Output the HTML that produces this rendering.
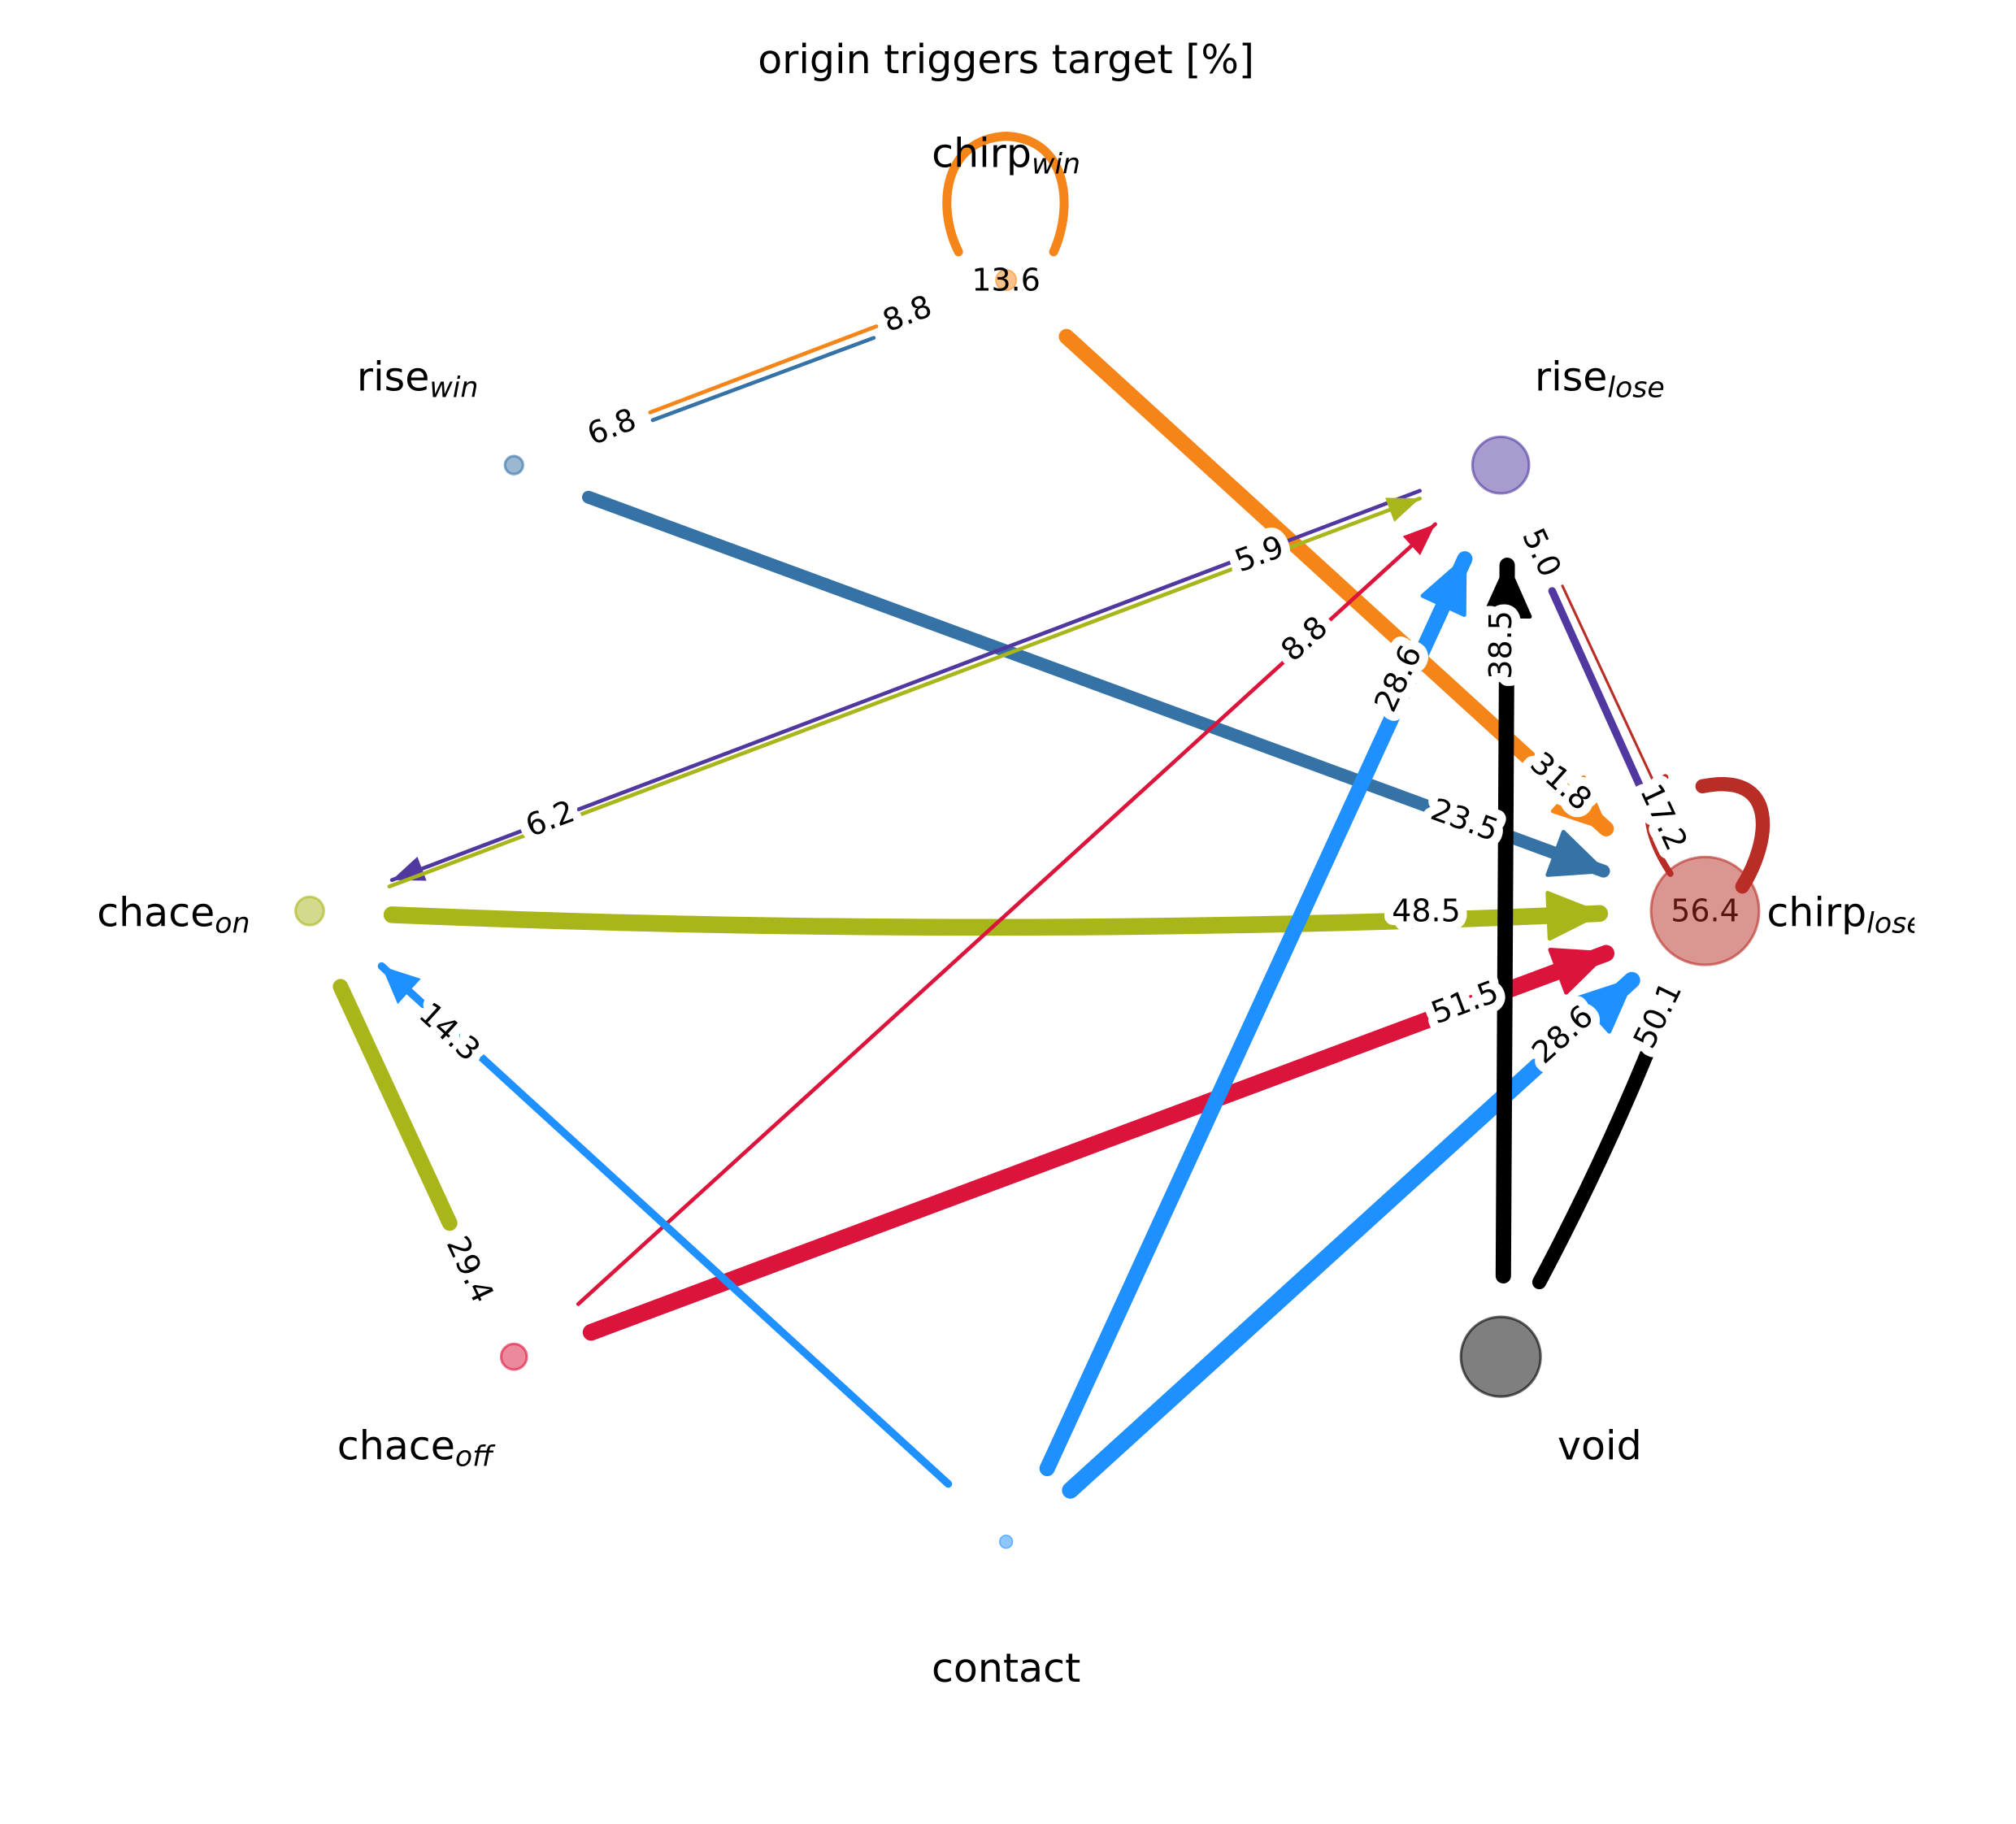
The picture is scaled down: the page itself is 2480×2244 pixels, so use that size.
<!DOCTYPE html>
<html><head><meta charset="utf-8"><style>html,body{margin:0;padding:0;background:#fff}svg{display:block}</style></head>
<body>
<svg width="2480" height="2244" viewBox="0 0 1569 1419.7" xmlns="http://www.w3.org/2000/svg" font-family="DejaVu Sans, Liberation Sans, sans-serif">
<defs>
<marker id="aO" markerUnits="userSpaceOnUse" markerWidth="44" markerHeight="44" viewBox="-40 -20 42 40" refX="0" refY="0" orient="auto"><path d="M-38,-17 L0,0 L-38,17 Z" fill="#f58518" stroke="#f58518" stroke-width="3" stroke-linejoin="round"/></marker>
<marker id="aB" markerUnits="userSpaceOnUse" markerWidth="44" markerHeight="44" viewBox="-40 -20 42 40" refX="0" refY="0" orient="auto"><path d="M-38,-17 L0,0 L-38,17 Z" fill="#3572a5" stroke="#3572a5" stroke-width="3" stroke-linejoin="round"/></marker>
<marker id="aG" markerUnits="userSpaceOnUse" markerWidth="44" markerHeight="44" viewBox="-40 -20 42 40" refX="0" refY="0" orient="auto"><path d="M-38,-17 L0,0 L-38,17 Z" fill="#a8b61b" stroke="#a8b61b" stroke-width="3" stroke-linejoin="round"/></marker>
<marker id="aR" markerUnits="userSpaceOnUse" markerWidth="44" markerHeight="44" viewBox="-40 -20 42 40" refX="0" refY="0" orient="auto"><path d="M-38,-17 L0,0 L-38,17 Z" fill="#dc143c" stroke="#dc143c" stroke-width="3" stroke-linejoin="round"/></marker>
<marker id="aL" markerUnits="userSpaceOnUse" markerWidth="44" markerHeight="44" viewBox="-40 -20 42 40" refX="0" refY="0" orient="auto"><path d="M-38,-17 L0,0 L-38,17 Z" fill="#1e90ff" stroke="#1e90ff" stroke-width="3" stroke-linejoin="round"/></marker>
<marker id="aK" markerUnits="userSpaceOnUse" markerWidth="44" markerHeight="44" viewBox="-40 -20 42 40" refX="0" refY="0" orient="auto"><path d="M-38,-17 L0,0 L-38,17 Z" fill="#000" stroke="#000" stroke-width="3" stroke-linejoin="round"/></marker>
<marker id="aP" markerUnits="userSpaceOnUse" markerWidth="30" markerHeight="30" viewBox="-22 -10 24 20" refX="0" refY="0" orient="auto"><path d="M-20,-8 L0,0 L-20,8 Z" fill="#5038a0"/></marker>
<marker id="aGs" markerUnits="userSpaceOnUse" markerWidth="30" markerHeight="30" viewBox="-22 -10 24 20" refX="0" refY="0" orient="auto"><path d="M-20,-8 L0,0 L-20,8 Z" fill="#a8b61b"/></marker>
<marker id="aRs" markerUnits="userSpaceOnUse" markerWidth="30" markerHeight="30" viewBox="-22 -10 24 20" refX="0" refY="0" orient="auto"><path d="M-20,-8 L0,0 L-20,8 Z" fill="#dc143c"/></marker>
<marker id="aLs" markerUnits="userSpaceOnUse" markerWidth="34" markerHeight="34" viewBox="-26 -12 28 24" refX="0" refY="0" orient="auto"><path d="M-24,-11 L0,0 L-24,11 Z" fill="#1e90ff"/></marker>
</defs>

<text x="783" y="57" font-size="31" text-anchor="middle">origin triggers target [%]</text>

<g fill="none" stroke-linecap="round">
<path d="M746,196 C728,160 735,108 783,106 C831,108 836,160 820,196" stroke="#f58518" stroke-width="7"/>
<line x1="682" y1="254" x2="506" y2="321" stroke="#f58518" stroke-width="3"/>
<line x1="680" y1="263" x2="508" y2="327" stroke="#3572a5" stroke-width="3"/>
<line x1="830" y1="262" x2="1250" y2="645" stroke="#f58518" stroke-width="12" marker-end="url(#aO)"/>
<line x1="458" y1="387" x2="1248" y2="678" stroke="#3572a5" stroke-width="10" marker-end="url(#aB)"/>
<line x1="1105" y1="382" x2="305" y2="685" stroke="#5038a0" stroke-width="3" marker-end="url(#aP)"/>
<line x1="303" y1="690" x2="1105" y2="388" stroke="#a8b61b" stroke-width="3" marker-end="url(#aGs)"/>
<path d="M305,712 Q780,732 1245,711" stroke="#a8b61b" stroke-width="13" marker-end="url(#aG)"/>
<line x1="265" y1="768" x2="350" y2="952" stroke="#a8b61b" stroke-width="12"/>
<line x1="450" y1="1015" x2="1117" y2="408" stroke="#dc143c" stroke-width="3" marker-end="url(#aRs)"/>
<line x1="460" y1="1037" x2="1250" y2="742" stroke="#dc143c" stroke-width="13" marker-end="url(#aR)"/>
<line x1="738" y1="1155" x2="297" y2="752" stroke="#1e90ff" stroke-width="6" marker-end="url(#aLs)"/>
<line x1="815" y1="1143" x2="1140" y2="435" stroke="#1e90ff" stroke-width="12" marker-end="url(#aL)"/>
<line x1="833" y1="1160" x2="1270" y2="763" stroke="#1e90ff" stroke-width="13" marker-end="url(#aL)"/>
<line x1="1170" y1="993" x2="1173" y2="440" stroke="#000" stroke-width="12" marker-end="url(#aK)"/>
<path d="M1198,998 Q1250,900 1290,800" stroke="#000" stroke-width="11"/>
<line x1="1208" y1="460" x2="1280" y2="620" stroke="#5038a0" stroke-width="6"/>
<line x1="1216" y1="456" x2="1290" y2="615" stroke="#b82d25" stroke-width="2"/>
<path d="M1325,612 C1385,600 1378,655 1356,690" stroke="#b82d25" stroke-width="11"/>
<path d="M1296,605 C1275,620 1280,650 1300,680" stroke="#b82d25" stroke-width="5"/>
</g>

<circle cx="783" cy="218" r="8" fill="#f58518" fill-opacity="0.5" stroke="#f58518" stroke-opacity="0.6"/>
<circle cx="400" cy="362" r="7" fill="#3572a5" fill-opacity="0.5" stroke="#3572a5" stroke-opacity="0.6" stroke-width="2"/>
<circle cx="1168" cy="362" r="22" fill="#5038a0" fill-opacity="0.5" stroke="#5038a0" stroke-opacity="0.6" stroke-width="2"/>
<circle cx="241" cy="709" r="11" fill="#a8b61b" fill-opacity="0.5" stroke="#a8b61b" stroke-opacity="0.6" stroke-width="2"/>
<circle cx="1327" cy="709" r="42" fill="#b82d25" fill-opacity="0.5" stroke="#b82d25" stroke-opacity="0.6" stroke-width="2"/>
<circle cx="400" cy="1056" r="10" fill="#dc143c" fill-opacity="0.5" stroke="#dc143c" stroke-opacity="0.6" stroke-width="2"/>
<circle cx="1168" cy="1056" r="31" fill="#000" fill-opacity="0.5" stroke="#000" stroke-opacity="0.6" stroke-width="2"/>
<circle cx="783" cy="1200" r="5" fill="#1e90ff" fill-opacity="0.5" stroke="#1e90ff" stroke-opacity="0.6"/>

<g font-size="31" text-anchor="middle">
<text x="783" y="130">chirp<tspan font-style="italic" font-size="22" dy="5">win</tspan></text>
<text x="325" y="304">rise<tspan font-style="italic" font-size="22" dy="5">win</tspan></text>
<text x="1245" y="304">rise<tspan font-style="italic" font-size="22" dy="5">lose</tspan></text>
<text x="135" y="721">chace<tspan font-style="italic" font-size="22" dy="5">on</tspan></text>
<text x="323" y="1136">chace<tspan font-style="italic" font-size="22" dy="5">off</tspan></text>
<text x="1245" y="1136">void</text>
<text x="783" y="1309">contact</text>
<text x="1375" y="721" text-anchor="start">chirp<tspan font-style="italic" font-size="22" dy="5">lose</tspan></text>
</g>
<rect x="0" y="0" width="77" height="1420" fill="#fff"/>
<rect x="1490" y="0" width="80" height="1420" fill="#fff"/>

<g font-size="24" text-anchor="middle" dominant-baseline="central" stroke="#fff" stroke-width="14" stroke-linejoin="round" paint-order="stroke" fill="#000">
<text x="783" y="218" stroke="none">13.6</text>
<text transform="translate(706,244) rotate(-21)">8.8</text>
<text transform="translate(476,332) rotate(-21)">6.8</text>
<text transform="translate(1215,608) rotate(42)">31.8</text>
<text transform="translate(1140,638) rotate(20)">23.5</text>
<text transform="translate(428,637) rotate(-20.6)">6.2</text>
<text transform="translate(980,431) rotate(-20.6)">5.9</text>
<text x="1110" y="709">48.5</text>
<text transform="translate(366,988) rotate(65)">29.4</text>
<text transform="translate(1015,497) rotate(-42)">8.8</text>
<text transform="translate(1140,780) rotate(-20.5)">51.5</text>
<text transform="translate(350,803) rotate(42.4)">14.3</text>
<text transform="translate(1088,528) rotate(-65)">28.6</text>
<text transform="translate(1216,805) rotate(-42)">28.6</text>
<text transform="translate(1168,502) rotate(-90)">38.5</text>
<text transform="translate(1290,790) rotate(-64)">50.1</text>
<text transform="translate(1295,636) rotate(65)">17.2</text>
<text transform="translate(1200,430) rotate(65)">5.0</text>
<text x="1327" y="709" stroke="none" fill="#5a1410">56.4</text>
</g>
</svg>
</body></html>
